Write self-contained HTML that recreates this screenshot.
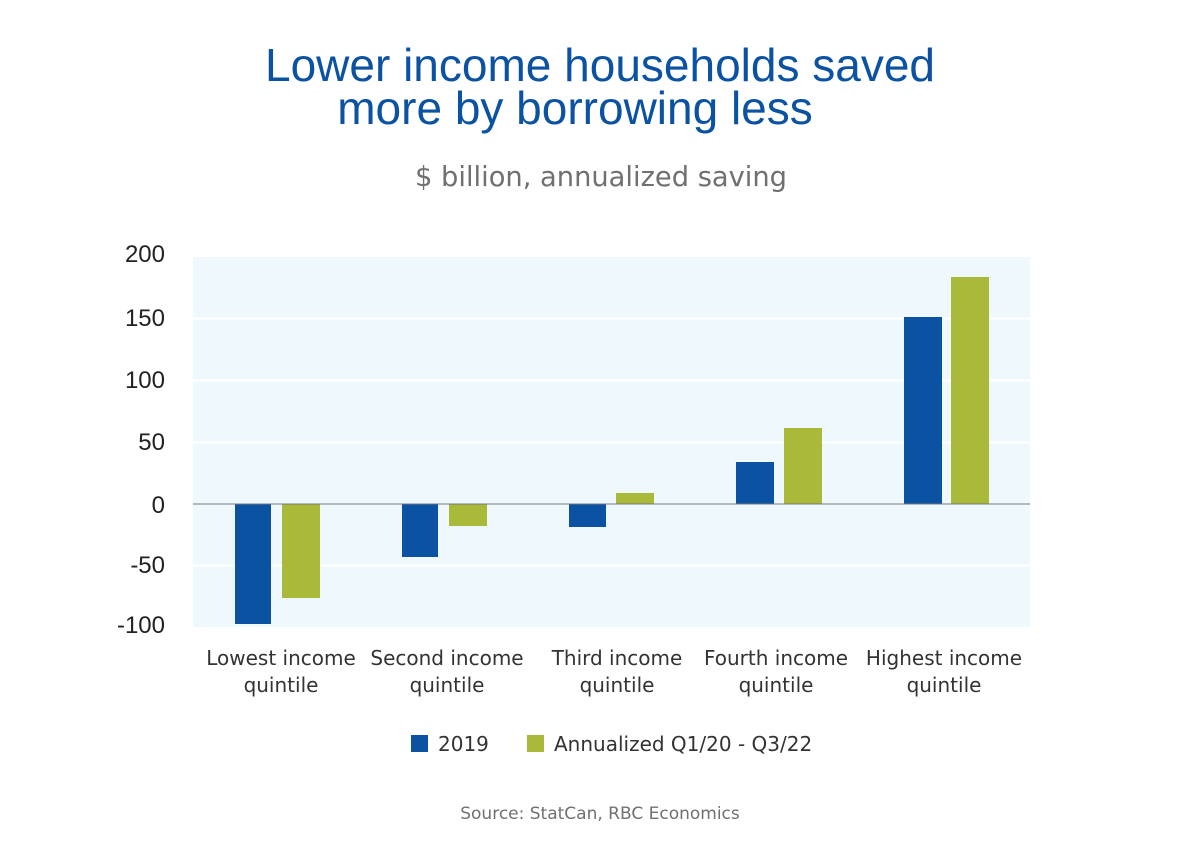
<!DOCTYPE html>
<html><head><style>body{margin:0;background:#fff}</style></head><body>
<svg width="1200" height="852" xmlns="http://www.w3.org/2000/svg" font-family="Liberation Sans, sans-serif">
<text x="600" y="81" text-anchor="middle" font-size="46" fill="#0b52a3">Lower income households saved</text>
<text x="575" y="124" text-anchor="middle" font-size="46" fill="#0b52a3">more by borrowing less</text>
<text x="601" y="186" text-anchor="middle" font-size="27.3" fill="#707070" font-family="DejaVu Sans, sans-serif">$ billion, annualized saving</text>
<rect x="193" y="257" width="837" height="370" fill="#eff8fc"/>
<g stroke="#fff" stroke-width="2">
<line x1="193" x2="1030" y1="318.5" y2="318.5"/><line x1="193" x2="1030" y1="380.5" y2="380.5"/>
<line x1="193" x2="1030" y1="442.5" y2="442.5"/><line x1="193" x2="1030" y1="565.5" y2="565.5"/>
</g>
<g font-size="24" fill="#222" text-anchor="end">
<text x="165" y="262">200</text><text x="165" y="326">150</text><text x="165" y="388">100</text>
<text x="165" y="450">50</text><text x="165" y="513">0</text><text x="165" y="573">-50</text><text x="165" y="633">-100</text>
</g>
<g fill="#0b52a3">
<rect x="235" y="504" width="36" height="120"/><rect x="402" y="504" width="36" height="53"/>
<rect x="569" y="504" width="37" height="23"/><rect x="736" y="462" width="38" height="42"/>
<rect x="904" y="317" width="38" height="187"/>
</g>
<g fill="#a9b93a">
<rect x="282" y="504" width="38" height="94"/><rect x="449" y="504" width="38" height="22"/>
<rect x="616" y="493" width="38" height="11"/><rect x="784" y="428" width="38" height="76"/>
<rect x="951" y="277" width="38" height="227"/>
</g>
<line x1="193" x2="1030" y1="504" y2="504" stroke="#777" stroke-width="1"/>
<g font-size="20" fill="#333" text-anchor="middle" font-family="DejaVu Sans, sans-serif">
<text x="281" y="665">Lowest income</text><text x="281" y="692">quintile</text>
<text x="447" y="665">Second income</text><text x="447" y="692">quintile</text>
<text x="617" y="665">Third income</text><text x="617" y="692">quintile</text>
<text x="776" y="665">Fourth income</text><text x="776" y="692">quintile</text>
<text x="944" y="665">Highest income</text><text x="944" y="692">quintile</text>
</g>
<rect x="411" y="735" width="17" height="17" fill="#0b52a3"/>
<text x="438" y="751" font-size="20" fill="#333" font-family="DejaVu Sans, sans-serif">2019</text>
<rect x="527" y="735" width="17" height="17" fill="#a9b93a"/>
<text x="554" y="751" font-size="20" fill="#333" font-family="DejaVu Sans, sans-serif">Annualized Q1/20 - Q3/22</text>
<text x="600" y="819" text-anchor="middle" font-size="17" fill="#707070" font-family="DejaVu Sans, sans-serif">Source: StatCan, RBC Economics</text>
</svg>
</body></html>
